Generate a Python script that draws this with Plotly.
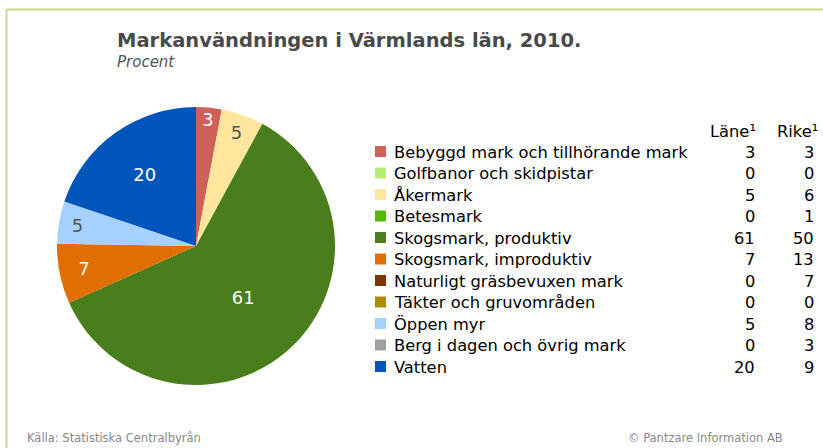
import plotly.graph_objects as go

W, H = 823, 448

categories = [
    "Bebyggd mark och tillhörande mark",
    "Golfbanor och skidpistar",
    "Åkermark",
    "Betesmark",
    "Skogsmark, produktiv",
    "Skogsmark, improduktiv",
    "Naturligt gräsbevuxen mark",
    "Täkter och gruvområden",
    "Öppen myr",
    "Berg i dagen och övrig mark",
    "Vatten",
]
lanet = [3, 0, 5, 0, 61, 7, 0, 0, 5, 0, 20]
riket = [3, 0, 6, 1, 50, 13, 7, 0, 8, 3, 9]
colors = [
    "#CF605A", "#B6EE74", "#FFE69C", "#56B900", "#4A7E1C", "#E06E00",
    "#7A3500", "#B08D00", "#A6D0FF", "#A0A0A0", "#0055BB",
]
text_colors = [
    "#FFFFFF", "#FFFFFF", "#555555", "#FFFFFF", "#FFFFFF", "#FFFFFF",
    "#FFFFFF", "#FFFFFF", "#555555", "#FFFFFF", "#FFFFFF",
]

FONT = "DejaVu Sans"


def px(x):
    return x / W


def py(y):
    return 1 - y / H


fig = go.Figure()

# pie: center ~ (196, 246), radius ~139
cx, cy, r = 196, 246, 139
fig.add_trace(go.Pie(
    labels=categories,
    values=lanet,
    sort=False,
    direction="clockwise",
    rotation=0,
    marker=dict(colors=colors, line=dict(width=0)),
    text=[str(v) if v > 0 else "" for v in lanet],
    textinfo="text",
    textposition="inside",
    insidetextorientation="horizontal",
    insidetextfont=dict(family=FONT, size=18, color=text_colors),
    hoverinfo="label+value",
    showlegend=False,
    domain=dict(x=[px(cx - r), px(cx + r)], y=[py(cy + r), py(cy - r)]),
))

shapes = []
annotations = []

# outer frame line (top and left)
shapes.append(dict(type="line", xref="paper", yref="paper",
                   x0=px(6.5), x1=px(830), y0=py(9.5), y1=py(9.5),
                   line=dict(color="#C5D88A", width=2)))
shapes.append(dict(type="line", xref="paper", yref="paper",
                   x0=px(6.5), x1=px(6.5), y0=py(9.5), y1=py(460),
                   line=dict(color="#C5D88A", width=2)))

# title
annotations.append(dict(text="<b>Markanvändningen i Värmlands län, 2010.</b>",
                        x=px(115), y=py(41), xref="paper", yref="paper",
                        xanchor="left", yanchor="middle", showarrow=False,
                        font=dict(family=FONT, size=19.5, color="#4A4A4A")))
annotations.append(dict(text="<i>Procent</i>",
                        x=px(115), y=py(62), xref="paper", yref="paper",
                        xanchor="left", yanchor="middle", showarrow=False,
                        font=dict(family=FONT, size=15, color="#555555")))

# legend table
LF = 16.3
row0, dy = 152, 21.5
annotations.append(dict(text="Läne¹", x=px(758), y=py(131), xref="paper", yref="paper",
                        xanchor="right", yanchor="middle", showarrow=False,
                        font=dict(family=FONT, size=LF, color="#000000")))
annotations.append(dict(text="Rike¹", x=px(820), y=py(131), xref="paper", yref="paper",
                        xanchor="right", yanchor="middle", showarrow=False,
                        font=dict(family=FONT, size=LF, color="#000000")))
for i, (cat, col, a, b) in enumerate(zip(categories, colors, lanet, riket)):
    yy = row0 + i * dy
    shapes.append(dict(type="rect", xref="paper", yref="paper",
                       x0=px(375), x1=px(386), y0=py(yy - 6), y1=py(yy + 5),
                       fillcolor=col, line=dict(width=0)))
    annotations.append(dict(text=cat, x=px(392), y=py(yy), xref="paper", yref="paper",
                            xanchor="left", yanchor="middle", showarrow=False,
                            font=dict(family=FONT, size=LF, color="#000000")))
    annotations.append(dict(text=str(a), x=px(757), y=py(yy), xref="paper", yref="paper",
                            xanchor="right", yanchor="middle", showarrow=False,
                            font=dict(family=FONT, size=LF, color="#000000")))
    annotations.append(dict(text=str(b), x=px(816), y=py(yy), xref="paper", yref="paper",
                            xanchor="right", yanchor="middle", showarrow=False,
                            font=dict(family=FONT, size=LF, color="#000000")))

# footer
annotations.append(dict(text="Källa: Statistiska Centralbyrån", x=px(25), y=py(438),
                        xref="paper", yref="paper", xanchor="left", yanchor="middle",
                        showarrow=False, font=dict(family=FONT, size=11.5, color="#888888")))
annotations.append(dict(text="© Pantzare Information AB", x=px(785), y=py(438),
                        xref="paper", yref="paper", xanchor="right", yanchor="middle",
                        showarrow=False, font=dict(family=FONT, size=11.5, color="#888888")))

fig.update_layout(
    width=W, height=H,
    margin=dict(l=0, r=0, t=0, b=0),
    paper_bgcolor="#FFFFFF",
    plot_bgcolor="#FFFFFF",
    shapes=shapes,
    annotations=annotations,
    showlegend=False,
)

fig.write_html("out.html",
               config={"displayModeBar": False},
               post_script="document.body.style.margin='0';document.body.style.overflow='hidden';")
